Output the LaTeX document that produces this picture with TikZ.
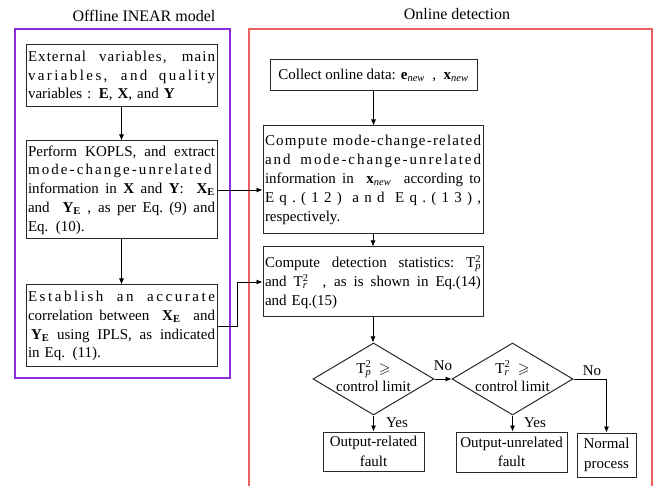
\documentclass[tikz,border=0pt]{standalone}
\usepackage{amssymb}
\usepackage{fontspec}
\setmainfont{Liberation Serif}
\usetikzlibrary{arrows.meta,shapes.geometric,calc}
\definecolor{frameviolet}{RGB}{140,45,220}
\definecolor{framered}{RGB}{238,95,95}
\definecolor{boxline}{RGB}{40,40,40}
% one justified line of a given width, optionally letter-spaced
\newcommand\spreadline[3]{\leavevmode{\addfontfeatures{LetterSpace=#2}%
  \spaceskip=.25em plus 1fil\xspaceskip=\spaceskip
  \hbox to #1{#3}}}
\newcommand\jl[2][0]{\spreadline{187pt}{#1}{#2}}
\newcommand\jr[2][0]{\spreadline{216pt}{#1}{#2}}
\newcommand\bsub[2]{\textbf{#1}\textsubscript{\textbf{#2}}}
\newcommand\nsub[1]{\textbf{#1}\textsubscript{\textit{new}}}
\newcommand\Tst[1]{T\rlap{\textsubscript{\textit{#1}}}\textsuperscript{2}}

\begin{document}
\begin{tikzpicture}[x=1pt,y=-1pt,
  box/.style={draw=boxline, line width=1pt, inner xsep=2pt, inner ysep=0pt,
    align=left, font=\fontsize{15}{18.8}\selectfont},
  lbox/.style={box, text width=187pt, minimum width=191pt},
  rbox/.style={box, text width=216pt, minimum width=220pt},
  obox/.style={box, align=center, font=\fontsize{15}{19.5}\selectfont},
  dec/.style={diamond, draw=boxline, line width=1pt, minimum width=121pt,
    minimum height=72pt, inner sep=0pt},
  lbl/.style={font=\fontsize{15}{18}\selectfont, inner sep=0pt},
  title/.style={font=\fontsize{16}{19}\selectfont, inner sep=0pt},
  flow/.style={draw=black, line width=0.8pt, -{Latex[length=6pt,width=5pt]}},
]
\useasboundingbox (0,0) rectangle (659,486);

% frames of the two stages
\draw[frameviolet, line width=1.2pt] (15,29) rectangle (230,378);
\draw[framered, line width=1.2pt] (249,495) -- (249,29) -- (652,29) -- (652,495);
\node[title] (t1) at (144,16) {Offline INEAR model};
\node[title] (t2) at (457,14) {Online detection};

% offline modelling
\node[lbox, minimum height=62pt] (l1) at (121.5,76)
  {\jl[7]{External variables, main}\\
   \jl[16]{variables, and quality}\\
   variables : \textbf{E}, \textbf{X}, and \textbf{Y}};
\node[lbox, minimum height=98pt] (l2) at (121.5,190)
  {\jl{Perform KOPLS, and extract}\\
   \jl[14]{mode-change-unrelated}\\
   \jl{information in \textbf{X} and \textbf{Y}:\ \ \bsub{X}{E}}\\
   \jl{and\ \ \bsub{Y}{E} , as per Eq. (9) and}\\
   Eq. (10).};
\node[lbox, minimum height=82pt] (l3) at (121.5,326)
  {\jl[17]{Establish an accurate}\\
   \jl{correlation between\ \ \bsub{X}{E}\ \ and}\\
   \jl{\hspace{3pt}\bsub{Y}{E} using IPLS, as indicated}\\
   in Eq. (11).};

% online detection
\node[box, align=center, minimum width=207pt, minimum height=31pt] (r1) at (373.5,75.5)
  {Collect online data: \nsub{e}\ \ ,\ \ \nsub{x}};
\node[rbox, minimum height=108pt] (r2) at (373,180)
  {\jr[8]{Compute mode-change-related}\\
   \jr[13]{and mode-change-unrelated}\\
   \jr{information in\ \ \nsub{x}\ \ according to}\\
   \jr[35]{Eq.(12) and Eq.(13),}\\
   respectively.};
\node[rbox, minimum height=70pt] (r3) at (373,282)
  {\jr{Compute detection statistics: \Tst{p}}\\
   \jr{and \Tst{r}\ \ , as is shown in Eq.(14)}\\
   and Eq.(15)};

\node[dec] (d1) at (373.5,379) {};
\node[lbl, align=center] (d1t) at ($(d1.center)+(0,-3)$) {\Tst{p}\ \ $\geqslant$\\control limit};
\node[dec] (d2) at (512.5,379) {};
\node[lbl, align=center] (d2t) at ($(d2.center)+(0,-3)$) {\Tst{r}\ \ $\geqslant$\\control limit};

\node[obox, minimum width=101pt, minimum height=39pt] (o1) at (373.5,451.5) {Output-related\\fault};
\node[obox, minimum width=111pt, minimum height=40pt] (o2) at (511.5,452) {Output-unrelated\\fault};
\node[obox, minimum width=59pt, minimum height=44pt] (o3) at (606.5,455) {Normal\\process};

\node[lbl] (no1) at (443,366) {No};
\node[lbl] (no2) at (592,371) {No};
\node[lbl] (yes1) at (397,423) {Yes};
\node[lbl] (yes2) at (535,423) {Yes};

% connectors
\draw[flow] (l1.south) -- (l2.north);
\draw[flow] (l2.south) -- (l3.north);
\draw[flow] (l2.east) -- (l2.east -| r2.west);
\draw[flow] (l3.east) -- ++(20,0) |- (r3.west);
\draw[flow] (r1.south) -- (r1.south |- r2.north);
\draw[flow] (r2.south) -- (r2.south |- r3.north);
\draw[flow] (r3.south) -- (r3.south |- d1.north);
\draw[flow] (d1.south) -- (d1.south |- o1.north);
\draw[flow] (d1.east) -- (d2.west);
\draw[flow] (d2.south) -- (d2.south |- o2.north);
\draw[flow] (d2.east) -| (o3.north);
\end{tikzpicture}
\end{document}
